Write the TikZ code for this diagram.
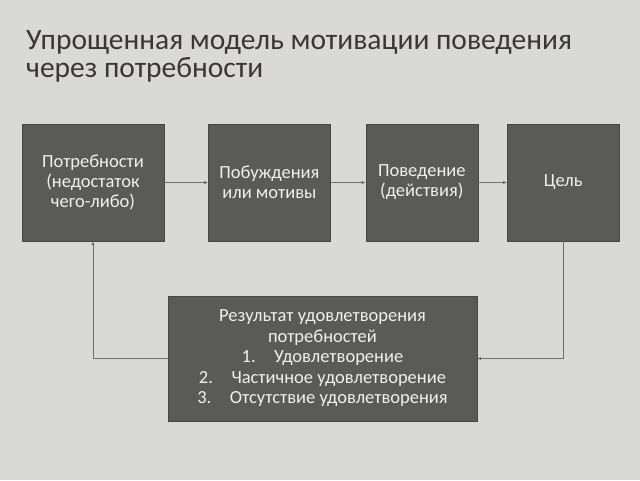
\documentclass[tikz,border=0pt]{standalone}
\usepackage{fontspec}
\setmainfont{Carlito}
\usetikzlibrary{positioning,arrows.meta}
\definecolor{Paper}{HTML}{D9D9D7}
\definecolor{BoxGray}{HTML}{5A5A57}
\definecolor{BoxLine}{HTML}{474745}
\definecolor{TitleInk}{HTML}{3C3636}
\definecolor{FlowGray}{HTML}{6E6E6C}

\begin{document}
\begin{tikzpicture}[x=1pt,y=-1pt,
    block/.style={draw=BoxLine, fill=BoxGray, text=white!94!black, align=center,
      inner sep=2pt, font=\fontsize{18.5}{20}\selectfont},
    flow/.style={draw=FlowGray, line width=0.8pt, -{Latex[length=4pt,width=3.5pt]}}]
        % page
        \fill[Paper] (0,0) rectangle (640,480);
        \useasboundingbox (0,0) rectangle (640,480);

        % title
        \node[anchor=north west, align=left, text=TitleInk, inner sep=0pt,
          font=\fontsize{29.5}{28}\selectfont] (title) at (26,30)
          {Упрощенная модель мотивации поведения\\через потребности};

        % boxes
        \node[block, minimum width=142pt, minimum height=117pt] (need) at (93,182.5)
          {Потребности\\(недостаток\\чего-либо)};
        \node[block, minimum width=122pt, minimum height=117pt, right=44pt of need] (motive)
          {Побуждения\\или мотивы};
        \node[block, minimum width=112pt, minimum height=117pt, right=35pt of motive] (act)
          {Поведение\\(действия)};
        \node[block, minimum width=112pt, minimum height=117pt, right=29pt of act] (goal)
          {Цель};
        \node[block, minimum width=309pt, minimum height=125pt, font=\fontsize{18.5}{20.5}\selectfont]
          (result) at (322.5,358.5)
          {Результат удовлетворения\\потребностей\\1.\quad Удовлетворение\\
           2.\quad Частичное удовлетворение\\3.\quad Отсутствие удовлетворения};

        % edges
        \draw[flow] (need) -- (motive);
        \draw[flow] (motive) -- (act);
        \draw[flow] (act) -- (goal);
        \draw[flow] (goal.south) |- (result.east);
        \draw[flow] (result.west) -| (need.south);
\end{tikzpicture}
\end{document}
